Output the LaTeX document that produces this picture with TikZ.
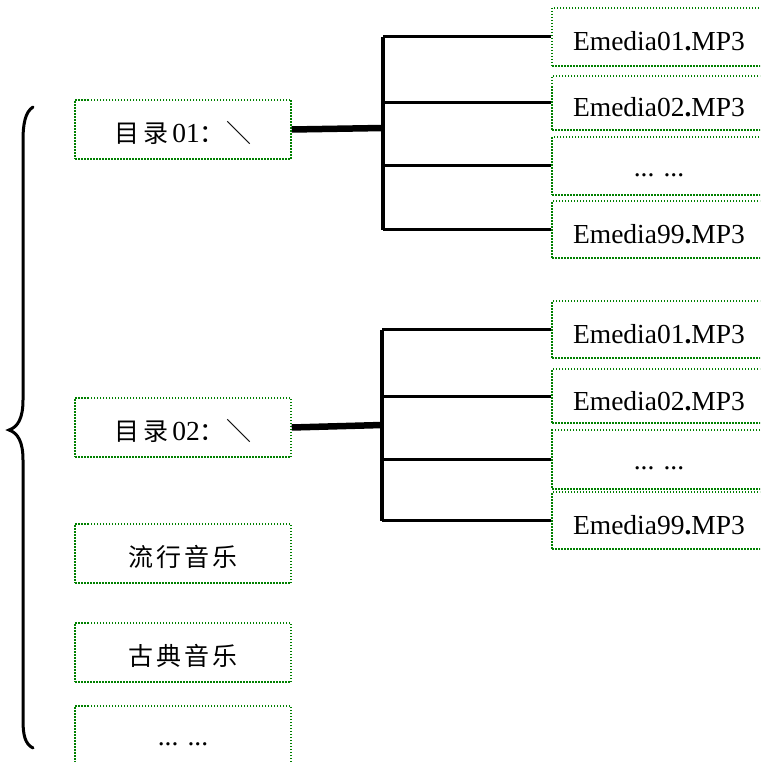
\documentclass[tikz,border=0pt]{standalone}
\usepackage{fontspec}
\setmainfont{Liberation Serif}
\newfontfamily\cjk{Noto Sans CJK SC}
\newcommand\ckt[1]{{\cjk\fontsize{25}{30}\selectfont #1}}
\definecolor{boxgreen}{RGB}{0,128,0}
\begin{document}
\begin{tikzpicture}[x=1pt,y=-1pt,
  box/.style={draw=boxgreen, line width=1.5pt, dash pattern=on 1.5pt off 1.5pt,
    minimum width=216pt, minimum height=59pt, inner sep=0pt,
    text height=26pt, text depth=0pt,
    font=\fontsize{27.5}{30}\selectfont},
  fbox/.style={box, minimum width=214pt, text height=28pt},
  dotsbox/.style={text height=20pt},
  trunk/.style={line width=4.5pt},
  branch/.style={line width=3pt},
  mainline/.style={line width=6.5pt},
  bracestyle/.style={line width=3pt, line cap=round}]
\clip (0,0) rectangle (760,762);
\fill[white] (0,0) rectangle (760,762);
% left boxes
\node[box] (d1) at (183,129.5) {\ckt{目\hspace{4pt}录}\hspace{4pt}01\ckt{：\hspace{2pt}＼}};
\node[box] (d2) at (183,427.5) {\ckt{目\hspace{4pt}录}\hspace{4pt}02\ckt{：\hspace{2pt}＼}};
\node[box] (d3) at (183,553.5) {\ckt{流\hspace{3pt}行\hspace{3pt}音\hspace{3pt}乐}};
\node[box] (d4) at (183,652.5) {\ckt{古\hspace{3pt}典\hspace{3pt}音\hspace{3pt}乐}};
\node[box, dotsbox] (d5) at (183,735.5) {... ...};
% right boxes, group 1
\node[fbox, minimum height=58pt] (a1) at (659,37) {Emedia01\textbf{.}MP3};
\node[fbox, minimum height=54pt] (a2) at (659,103) {Emedia02\textbf{.}MP3};
\node[fbox, dotsbox, minimum height=58pt] (a3) at (659,166) {... ...};
\node[fbox, minimum height=57pt] (a4) at (659,229.5) {Emedia99\textbf{.}MP3};
% right boxes, group 2
\node[fbox, minimum height=57pt] (b1) at (659,329.5) {Emedia01\textbf{.}MP3};
\node[fbox, minimum height=54pt] (b2) at (659,396) {Emedia02\textbf{.}MP3};
\node[fbox, dotsbox, minimum height=59pt] (b3) at (659,459.5) {... ...};
\node[fbox, minimum height=57pt] (b4) at (659,520.5) {Emedia99\textbf{.}MP3};
% junctions
\coordinate (j1) at (383,128);
\coordinate (j2) at (382,425);
% group 1 connectors
\draw[trunk] (j1 |- a1.west) -- (j1 |- a4.west);
\foreach \n in {a1,a2,a3,a4} \draw[branch] (j1 |- \n.west) -- (\n.west);
\draw[mainline] (d1.east) -- (j1);
% group 2 connectors
\draw[trunk] (j2 |- b1.west) -- (j2 |- b4.west);
\foreach \n in {b1,b2,b3,b4} \draw[branch] (j2 |- \n.west) -- (\n.west);
\draw[mainline] (d2.east) -- (j2);
% brace
\draw[bracestyle] (33,107) .. controls (25,112) and (23,125) .. (23,140) -- (23,400)
  .. controls (23,418) and (18,427) .. (9,430)
  .. controls (18,433) and (23,442) .. (23,460) -- (23,720)
  .. controls (23,735) and (25,744) .. (33,748);
\end{tikzpicture}
\end{document}
